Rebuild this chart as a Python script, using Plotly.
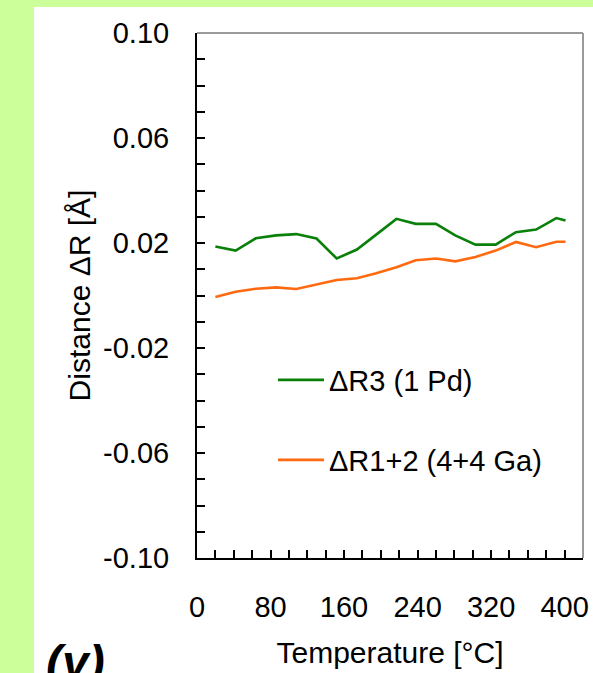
import plotly.graph_objects as go

# Temperature steps (°C)
temperature = [20, 42, 64, 86, 108, 130, 152, 174, 195, 217, 238, 260, 281, 303, 325, 347, 369, 391, 401]

# Distance changes ΔR (Å)
dr3_pd = [0.0187, 0.0171, 0.0218, 0.0229, 0.0234, 0.0217, 0.0141, 0.0175, 0.0232, 0.0292,
          0.0273, 0.0273, 0.0229, 0.0194, 0.0194, 0.0241, 0.0251, 0.0295, 0.0286]
dr12_ga = [-0.0006, 0.0014, 0.0026, 0.0031, 0.0025, 0.0042, 0.0059, 0.0066, 0.0085, 0.0108,
           0.0134, 0.0141, 0.0130, 0.0147, 0.0171, 0.0204, 0.0184, 0.0205, 0.0205]

series_names = ["ΔR3 (1 Pd)", "ΔR1+2 (4+4 Ga)"]
x_ticks = [0, 80, 160, 240, 320, 400]
y_ticks = [-0.10, -0.06, -0.02, 0.02, 0.06, 0.10]
y_tick_labels = ["-0.10", "-0.06", "-0.02", "0.02", "0.06", "0.10"]

FONT = "Liberation Sans, Arial, sans-serif"
FS = 30
W, H = 593, 673
L, R, T, B = 197, 10, 33, 115
pw, ph = W - L - R, H - T - B

def px(x):
    return (x - L) / pw

def py(y):
    return (H - B - y) / ph

fig = go.Figure()
fig.add_trace(go.Scatter(x=temperature, y=dr3_pd, mode="lines", name=series_names[0],
                         line=dict(color="#0a800a", width=2.6), legend="legend"))
fig.add_trace(go.Scatter(x=temperature, y=dr12_ga, mode="lines", name=series_names[1],
                         line=dict(color="#ff6a10", width=2.6), legend="legend2"))

legend_common = dict(bgcolor="rgba(0,0,0,0)", font=dict(family=FONT, size=FS - 1, color="black"),
                     xanchor="left", yanchor="middle", itemwidth=46, visible=True)

fig.update_layout(
    width=W, height=H,
    margin=dict(l=L, r=R, t=T, b=B, autoexpand=False),
    paper_bgcolor="#ccff99",
    plot_bgcolor="white",
    showlegend=True,
    font=dict(family=FONT, size=FS, color="black"),
    legend=dict(x=px(273), y=py(380), **legend_common),
    legend2=dict(x=px(273), y=py(460), **legend_common),
    xaxis=dict(
        range=[0, 420], tickmode="array", tickvals=x_ticks,
        ticks="inside", ticklen=8, tickwidth=2, tickcolor="black",
        showline=True, linecolor="black", linewidth=2,
        showgrid=False, zeroline=False, automargin=False,
        ticklabelstandoff=22,
        tickfont=dict(family=FONT, size=FS - 1),
        minor=dict(dtick=20, tick0=0, ticks="inside", ticklen=8, tickwidth=2, tickcolor="black", showgrid=False),
        title=dict(text="Temperature [°C]", font=dict(family=FONT, size=FS), standoff=20),
    ),
    yaxis=dict(
        range=[-0.10, 0.10], tickmode="array", tickvals=y_ticks, ticktext=y_tick_labels,
        ticks="inside", ticklen=8, tickwidth=2, tickcolor="black",
        showline=True, linecolor="black", linewidth=2,
        showgrid=False, zeroline=False, automargin=False,
        ticklabelstandoff=20,
        tickfont=dict(family=FONT, size=FS - 1),
        minor=dict(dtick=0.01, tick0=-0.10, ticks="inside", ticklen=8, tickwidth=2, tickcolor="black", showgrid=False),
        title=dict(text="Distance ΔR [Å]", font=dict(family=FONT, size=FS), standoff=4),
    ),
    shapes=[
        # white panel behind the chart
        dict(type="rect", xref="paper", yref="paper", layer="below",
             x0=px(34), x1=px(W + 20), y0=py(H + 20), y1=py(7),
             fillcolor="white", line=dict(width=0)),
        # thin grey frame on top and right
        dict(type="line", xref="paper", yref="paper", x0=0, x1=1, y0=1, y1=1,
             line=dict(color="#9a9a9a", width=2)),
        dict(type="line", xref="paper", yref="paper", x0=1, x1=1, y0=0, y1=1,
             line=dict(color="#9a9a9a", width=2)),
    ],
    annotations=[
        dict(text="<b><i>(y)</i></b>", xref="paper", yref="paper", x=px(44), y=py(634),
             xanchor="left", yanchor="top", showarrow=False,
             font=dict(family=FONT, size=48, color="black")),
    ],
)

fig.write_html("out.html")
